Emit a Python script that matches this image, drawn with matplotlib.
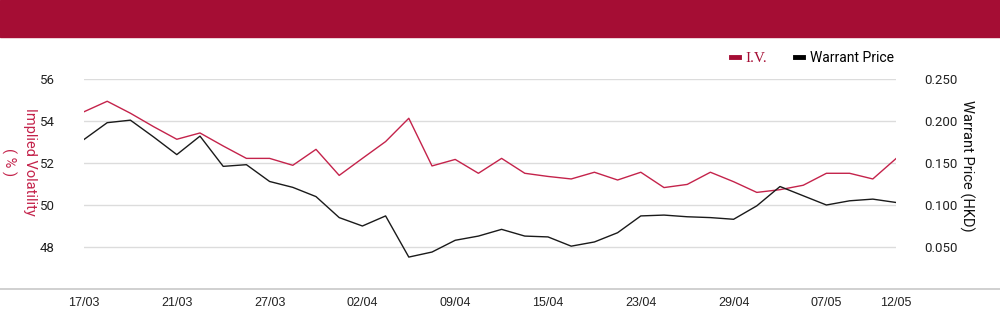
import matplotlib.pyplot as plt
from matplotlib.lines import Line2D
from matplotlib.patches import Rectangle

# trading days shown on the chart
dates = ["17/03", "18/03", "19/03", "20/03", "21/03", "24/03", "25/03", "26/03", "27/03",
         "28/03", "31/03", "01/04", "02/04", "03/04", "07/04", "08/04", "09/04", "10/04",
         "11/04", "14/04", "15/04", "16/04", "17/04", "22/04", "23/04", "24/04", "25/04",
         "28/04", "29/04", "30/04", "02/05", "06/05", "07/05", "08/05", "09/05", "12/05"]

iv = [54.44, 54.94, 54.37, 53.73, 53.13, 53.43, 52.81, 52.22, 52.22, 51.89,
      52.65, 51.41, 52.22, 53.02, 54.13, 51.86, 52.17, 51.51, 52.22, 51.51,
      51.36, 51.24, 51.56, 51.19, 51.56, 50.83, 50.98, 51.56, 51.11, 50.60,
      50.73, 50.94, 51.51, 51.51, 51.24, 52.21]

price = [0.178, 0.198, 0.201, 0.181, 0.160, 0.182, 0.146, 0.148, 0.128, 0.121,
         0.110, 0.085, 0.075, 0.087, 0.038, 0.044, 0.058, 0.063, 0.071, 0.063,
         0.062, 0.051, 0.056, 0.067, 0.087, 0.088, 0.086, 0.085, 0.083, 0.099,
         0.122, 0.111, 0.100, 0.105, 0.107, 0.103]

tick_idx = [0, 4, 8, 12, 16, 20, 24, 28, 32, 35]

header_col = "#A50D34"
iv_col = "#C4234B"
px_col = "#1A1A1A"

fig = plt.figure(figsize=(10, 3.24), dpi=100)
fig.patches.append(Rectangle((0, 1 - 37 / 324), 1, 37 / 324, transform=fig.transFigure,
                             color=header_col, zorder=0))
fig.add_artist(Line2D([0, 1], [1 - 289 / 324, 1 - 289 / 324], transform=fig.transFigure,
                      color="#C8C8C8", lw=1.2))

ax = fig.add_axes([0.084, 1 - 289 / 324, 0.812, 210 / 324])
ax2 = ax.twinx()

x = list(range(len(dates)))
ax.plot(x, iv, color=iv_col, lw=1.0, zorder=3)
ax2.plot(x, price, color=px_col, lw=1.0, zorder=3)

ax.set_xlim(0, len(dates) - 1)
ax.set_ylim(46, 56)
ax2.set_ylim(0, 0.25)
ax.set_yticks([48, 50, 52, 54, 56])
ax2.set_yticks([0.05, 0.10, 0.15, 0.20, 0.25])
ax2.set_yticklabels([f"{v:.3f}" for v in [0.05, 0.10, 0.15, 0.20, 0.25]])
ax.grid(axis="y", color="#DCDCDC", lw=1.0)
ax.set_axisbelow(True)

ax.set_xticks(tick_idx)
ax.set_xticklabels([dates[i] for i in tick_idx], family="Liberation Sans", fontsize=9)

for a in (ax, ax2):
    for s in a.spines.values():
        s.set_visible(False)
    a.tick_params(length=0, labelsize=9.5, colors="#222222")
ax.tick_params(axis="y", pad=21)
ax2.tick_params(axis="y", pad=20)
ax.tick_params(axis="x", pad=6, labelsize=9)
for lab in ax.get_yticklabels() + ax2.get_yticklabels():
    lab.set_family("Roboto")

fig.text(0.019, 1 - 162 / 324, "Implied Volatility\n( % )", rotation=-90, color=iv_col,
         ha="center", va="center", multialignment="center", fontsize=10.5,
         family="Roboto", linespacing=1.5)
fig.text(0.967, 1 - 166 / 324, "Warrant Price (HKD)", rotation=-90, color="#111111",
         ha="center", va="center", fontsize=10.5, family="Roboto")

handles = [Line2D([], [], color=header_col, lw=3.5),
           Line2D([], [], color="#000000", lw=3.5)]
leg = fig.legend(handles, ["I.V.", "Warrant Price"], loc="center right",
                 bbox_to_anchor=(0.906, 1 - 58 / 324), ncol=2, frameon=False,
                 handlelength=0.6, handletextpad=0.45, columnspacing=2.0,
                 prop={"family": "Roboto", "size": 10})
leg.get_texts()[0].set_color(header_col)
leg.get_texts()[0].set_family("Liberation Serif")
leg.get_texts()[0].set_fontsize(11)

fig.savefig("out.png", dpi=100)
